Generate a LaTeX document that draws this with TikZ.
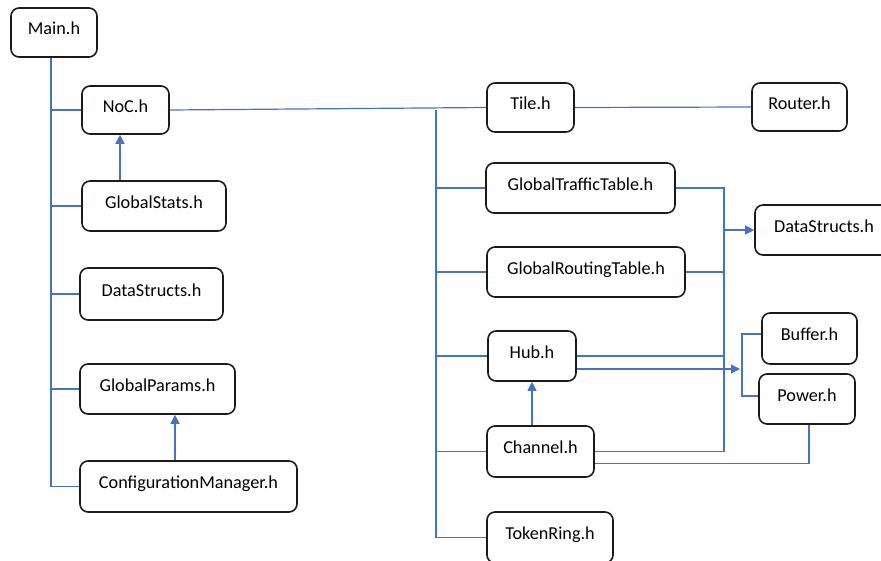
\documentclass[tikz,border=0pt]{standalone}
\usepackage{fontspec}
\setmainfont{Carlito}
\usetikzlibrary{arrows.meta}
\definecolor{linkblue}{HTML}{4472C4}
\definecolor{boxline}{HTML}{1A1A1A}
\tikzset{
  filebox/.style={draw=boxline, line width=1.6pt, rounded corners=8pt,
    inner sep=0pt, align=center, text height=12.5pt, text depth=8pt,
    font=\fontsize{18.2}{20}\selectfont},
  conn/.style={draw=linkblue, line width=1.2pt},
  dep/.style={conn, -{Triangle[length=9pt,width=9pt]}}
}
\begin{document}
\begin{tikzpicture}[x=1pt, y=-1pt]
\useasboundingbox (0,0) rectangle (881,560);
\clip (0,0) rectangle (881,560);

% header files
\node[filebox, minimum width=86pt,  minimum height=49pt] (main)   at (54,32.5)   {Main.h};
\node[filebox, minimum width=87pt,  minimum height=48pt] (noc)    at (125.5,110) {NoC.h};
\node[filebox, minimum width=144pt, minimum height=50pt] (gstats) at (154,206)   {GlobalStats.h};
\node[filebox, minimum width=143pt, minimum height=52pt] (dsl)    at (151.5,294) {DataStructs.h};
\node[filebox, minimum width=155pt, minimum height=50pt] (gparams) at (157.5,389) {GlobalParams.h};
\node[filebox, minimum width=217pt, minimum height=51pt] (cfg)    at (188.5,486.5) {ConfigurationManager.h};

\node[filebox, minimum width=87pt,  minimum height=49pt] (tile)   at (530.5,107.5) {Tile.h};
\node[filebox, minimum width=95pt,  minimum height=48pt] (router) at (799.5,107)   {Router.h};
\node[filebox, minimum width=189pt, minimum height=50pt] (gtt)    at (580.5,188)   {GlobalTrafficTable.h};
\node[filebox, minimum width=138pt, minimum height=50pt] (dsr)    at (824,230)     {DataStructs.h};
\node[filebox, minimum width=198pt, minimum height=50pt] (grt)    at (586,272)     {GlobalRoutingTable.h};
\node[filebox, minimum width=88pt,  minimum height=50pt] (hub)    at (532,356)     {Hub.h};
\node[filebox, minimum width=95pt,  minimum height=51pt] (buffer) at (809.5,338.5) {Buffer.h};
\node[filebox, minimum width=96pt,  minimum height=50pt] (power)  at (807,399)     {Power.h};
\node[filebox, minimum width=107pt, minimum height=51pt] (chan)   at (540.5,451.5) {Channel.h};
\node[filebox, minimum width=126pt, minimum height=51pt] (token)  at (550,537.5)   {TokenRing.h};

% bus lines
\coordinate (lbus) at (51,0);
\coordinate (rbus) at (436,0);
\coordinate (dbus) at (724,0);
\coordinate (pbus) at (742,0);

% Main.h includes
\draw[conn] (main.south -| lbus) -- (lbus |- cfg.west) -- (cfg.west);
\draw[conn] (lbus |- noc.west) -- (noc.west);
\draw[conn] (lbus |- gstats.west) -- (gstats.west);
\draw[conn] (lbus |- dsl.west) -- (dsl.west);
\draw[conn] (lbus |- gparams.west) -- (gparams.west);
\draw[dep] (gstats.north -| 120,0) -- (noc.south -| 120,0);
\draw[dep] (cfg.north -| 175,0) -- (gparams.south -| 175,0);

% NoC.h includes
\draw[conn] (noc.east) -- (tile.west);
\draw[conn] (rbus |- noc.east) -- (rbus |- token.west) -- (token.west);
\draw[conn] (rbus |- gtt.west) -- (gtt.west);
\draw[conn] (rbus |- grt.west) -- (grt.west);
\draw[conn] (rbus |- hub.west) -- (hub.west);
\draw[conn] (rbus |- chan.west) -- (chan.west);
\draw[conn] (tile.east) -- (router.west);
\draw[dep] (chan.north -| hub.south) -- (hub.south);

% shared DataStructs.h
\draw[conn] (gtt.east) -- (dbus |- gtt.east) -- (dbus |- chan.east) -- (chan.east);
\draw[conn] (grt.east) -- (dbus |- grt.east);
\draw[conn] (hub.east) -- (dbus |- hub.east);
\draw[dep] (dbus |- dsr.west) -- (dsr.west);

% Buffer.h / Power.h
\draw[conn] (buffer.west |- 0,334) -- (pbus |- 0,334) -- (pbus |- 0,396) -- (power.west |- 0,396);
\draw[dep] ([yshift=-13pt]hub.east) -- ([xshift=-2pt]pbus |- 0,369);
\draw[conn] ([yshift=-12pt]chan.east) -- (809,463.5) -- (power.south -| 809,0);
\end{tikzpicture}
\end{document}
